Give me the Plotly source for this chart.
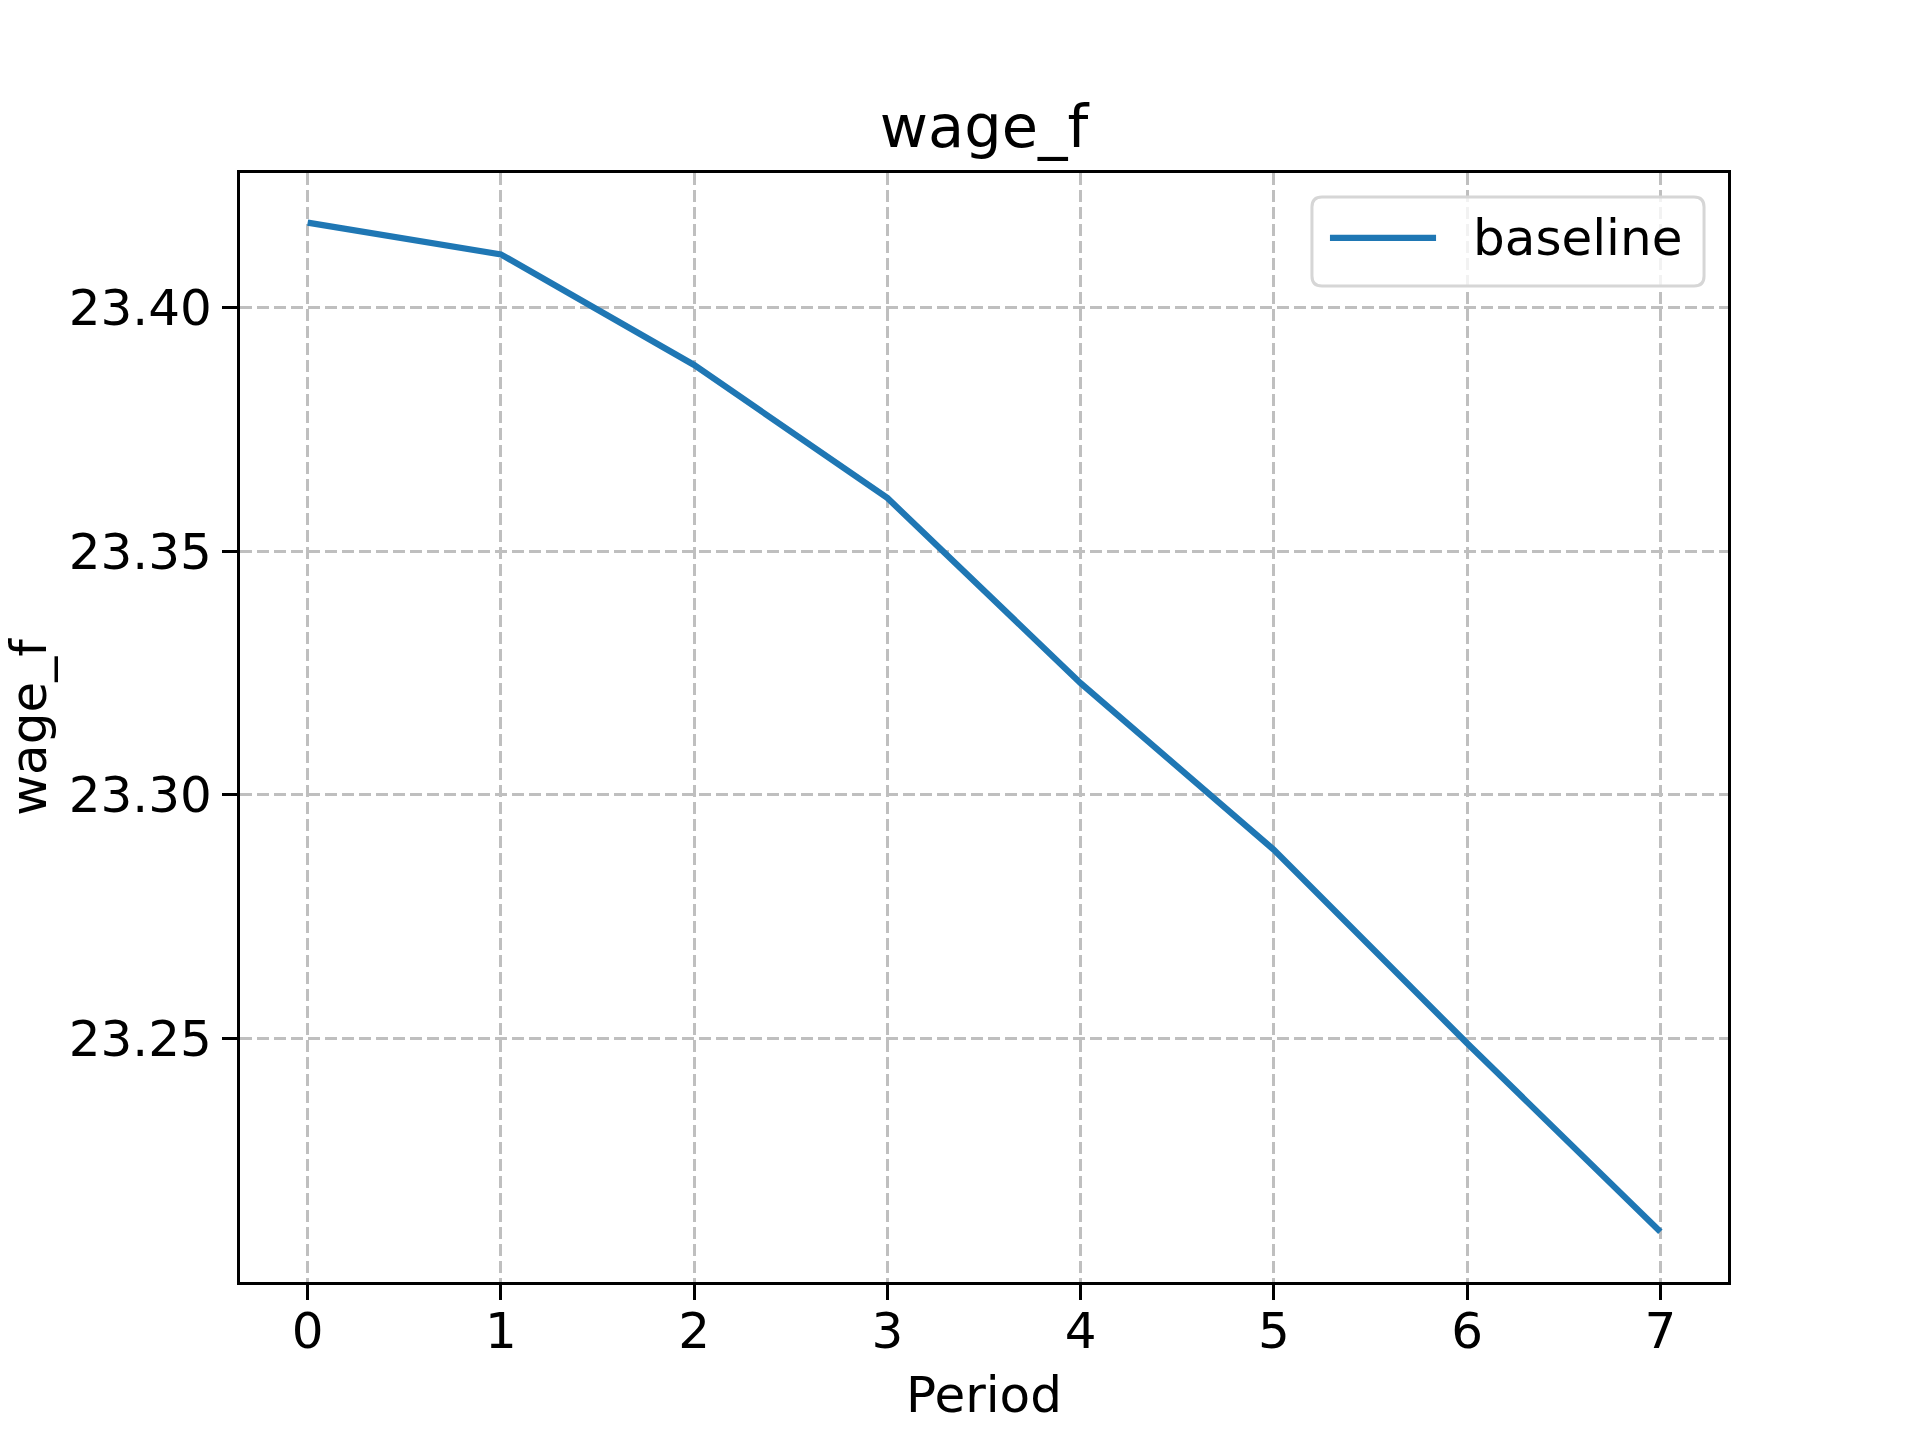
import plotly.graph_objects as go

# values
periods = [0, 1, 2, 3, 4, 5, 6, 7]
wage_f = [23.4174, 23.4109, 23.3882, 23.3609, 23.3229, 23.2887, 23.2490, 23.2103]
y_ticks = [23.25, 23.30, 23.35, 23.40]
y_tick_labels = ["23.25", "23.30", "23.35", "23.40"]
series_name = "baseline"
line_color = "#1f77b4"

fig = go.Figure()
fig.add_trace(go.Scatter(
    x=periods,
    y=wage_f,
    mode="lines",
    name=series_name,
    showlegend=False,
    line=dict(color=line_color, width=6.25),
))

fig.update_layout(
    width=1920,
    height=1440,
    margin=dict(l=240, r=192, t=173, b=158),
    paper_bgcolor="white",
    plot_bgcolor="white",
    font=dict(family="DejaVu Sans", size=50, color="black"),
    title=dict(
        text="wage_f",
        x=0.5, xref="paper", xanchor="center",
        y=1 - 126 / 1440, yref="container", yanchor="middle",
        font=dict(size=59),
    ),
)

# matplotlib-style legend box (rounded frame, long line sample)
x0, x1, y0, y1 = 0.7204, 0.9839, 0.8981, 0.9784
rx, ry = 10 / 1488, 10 / 1109
legend_path = (
    f"M{x0 + rx},{y0} L{x1 - rx},{y0} Q{x1},{y0} {x1},{y0 + ry} "
    f"L{x1},{y1 - ry} Q{x1},{y1} {x1 - rx},{y1} "
    f"L{x0 + rx},{y1} Q{x0},{y1} {x0},{y1 - ry} "
    f"L{x0},{y0 + ry} Q{x0},{y0} {x0 + rx},{y0} Z"
)
fig.add_shape(type="path", path=legend_path, xref="paper", yref="paper",
              line=dict(color="#d6d6d6", width=3), fillcolor="rgba(255,255,255,0.8)")
fig.add_shape(type="line", xref="paper", yref="paper",
              x0=0.7325, x1=0.8038, y0=0.9414, y1=0.9414,
              line=dict(color=line_color, width=6.25))
fig.add_annotation(text=series_name, xref="paper", yref="paper",
                   x=0.8273, y=0.9414, xanchor="left", yanchor="middle",
                   showarrow=False, font=dict(size=50))

axis_common = dict(
    showline=True, linecolor="black", linewidth=3.3, mirror=True,
    ticks="outside", ticklen=15, tickwidth=3.3, tickcolor="black",
    showgrid=True, gridcolor="#bfbfbf", gridwidth=3, griddash="12px,5px",
    zeroline=False, automargin=False,
)

fig.update_xaxes(
    range=[-0.35, 7.35],
    tickmode="array", tickvals=periods,
    ticklabelstandoff=-12,
    title=dict(text="Period", standoff=18, font=dict(size=50)),
    **axis_common,
)
fig.update_yaxes(
    range=[23.2000, 23.4276],
    tickmode="array", tickvals=y_ticks, ticktext=y_tick_labels,
    ticklabelstandoff=0,
    title=dict(text="wage_f", standoff=44, font=dict(size=50)),
    **axis_common,
)

fig.write_html("out.html", config={"displayModeBar": False},
               post_script="document.body.style.margin='0';")
